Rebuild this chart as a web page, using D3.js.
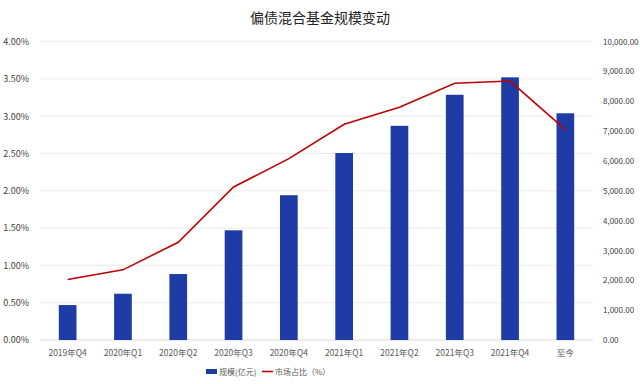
<!DOCTYPE html>
<html>
<head>
<meta charset="utf-8">
<script src="https://cdn.jsdelivr.net/npm/d3@7"></script>
<style>
  body { margin: 0; background: #fff; }
  text { font-family: "Noto Sans CJK SC", "Liberation Sans", sans-serif; }
</style>
</head>
<body>
<div id="chart"></div>
<script>
const width = 640;
const height = 384;

const categories = ["2019年Q4", "2020年Q1", "2020年Q2", "2020年Q3", "2020年Q4",
    "2021年Q1", "2021年Q2", "2021年Q3", "2021年Q4", "至今"];
const scale = [1170, 1550, 2210, 3675, 4850, 6265, 7175, 8215, 8800, 7595];   // 规模(亿元)
const share = [0.81, 0.94, 1.31, 2.05, 2.43, 2.89, 3.12, 3.44, 3.47, 2.82];    // 市场占比 %
const leftTicks = [0, 0.5, 1, 1.5, 2, 2.5, 3, 3.5, 4];
const rightTicks = [0, 1000, 2000, 3000, 4000, 5000, 6000, 7000, 8000, 9000, 10000];

const margin = { top: 41.5, right: 47, bottom: 44, left: 40 };

const svg = d3.select("div#chart").append("svg")
    .attr("width", width)
    .attr("height", height);

const x = d3.scaleBand()
    .domain(categories)
    .range([margin.left, width - margin.right])
    .paddingInner(0.68)
    .paddingOuter(0.34);

const yLeft = d3.scaleLinear().domain([0, 4]).range([height - margin.bottom, margin.top]);
const yRight = d3.scaleLinear().domain([0, 10000]).range([height - margin.bottom, margin.top]);

// title
svg.append("text")
    .attr("x", width / 2)
    .attr("y", 23)
    .attr("text-anchor", "middle")
    .attr("font-size", 14)
    .attr("fill", "#222")
    .text("偏债混合基金规模变动");

// grid lines
svg.append("g")
    .selectAll("line")
    .data(leftTicks)
    .join("line")
    .attr("x1", margin.left)
    .attr("x2", width - margin.right)
    .attr("y1", d => yLeft(d))
    .attr("y2", d => yLeft(d))
    .attr("stroke", d => d === 0 ? "#d9d9d9" : "#ececec")
    .attr("stroke-width", 1);

// left axis
const leftAxis = svg.append("g")
    .attr("transform", `translate(${margin.left - 8},0)`)
    .call(d3.axisLeft(yLeft).tickValues(leftTicks).tickSize(0).tickFormat(d => d.toFixed(2) + "%"));
leftAxis.select(".domain").remove();
leftAxis.selectAll("text").attr("font-size", 9).attr("fill", "#404040")
    .attr("font-family", "Liberation Sans, sans-serif");

// right axis
const rightAxis = svg.append("g")
    .attr("transform", `translate(${width - margin.right + 7},0)`)
    .call(d3.axisRight(yRight).tickValues(rightTicks).tickSize(0).tickFormat(d3.format(",.2f")));
rightAxis.select(".domain").remove();
rightAxis.selectAll("text").attr("font-size", 8).attr("fill", "#404040")
    .attr("font-family", "Liberation Sans, sans-serif");

// bars
svg.append("g")
    .selectAll("rect")
    .data(scale)
    .join("rect")
    .attr("x", (d, i) => x(categories[i]))
    .attr("y", d => yRight(d))
    .attr("width", x.bandwidth())
    .attr("height", d => yRight(0) - yRight(d))
    .attr("fill", "#1f3ca6");

// line
const line = d3.line()
    .x((d, i) => x(categories[i]) + x.bandwidth() / 2)
    .y(d => yLeft(d));

svg.append("path")
    .datum(share)
    .attr("d", line)
    .attr("fill", "none")
    .attr("stroke", "#c00000")
    .attr("stroke-width", 1.6);

// x labels
svg.append("g")
    .selectAll("text")
    .data(categories)
    .join("text")
    .attr("x", d => x(d) + x.bandwidth() / 2)
    .attr("y", 356)
    .attr("text-anchor", "middle")
    .attr("font-size", 8.5)
    .attr("fill", "#595959")
    .text(d => d);

// legend
const legend = svg.append("g");
legend.append("rect")
    .attr("x", 206).attr("y", 369)
    .attr("width", 11).attr("height", 5)
    .attr("fill", "#1f3ca6");
legend.append("text")
    .attr("x", 219).attr("y", 375)
    .attr("font-size", 8).attr("fill", "#595959")
    .text("规模(亿元)");
legend.append("line")
    .attr("x1", 262).attr("x2", 273)
    .attr("y1", 371.5).attr("y2", 371.5)
    .attr("stroke", "#c00000").attr("stroke-width", 1.6);
legend.append("text")
    .attr("x", 275).attr("y", 375)
    .attr("font-size", 8).attr("fill", "#595959")
    .text("市场占比（%）");
</script>
</body>
</html>
